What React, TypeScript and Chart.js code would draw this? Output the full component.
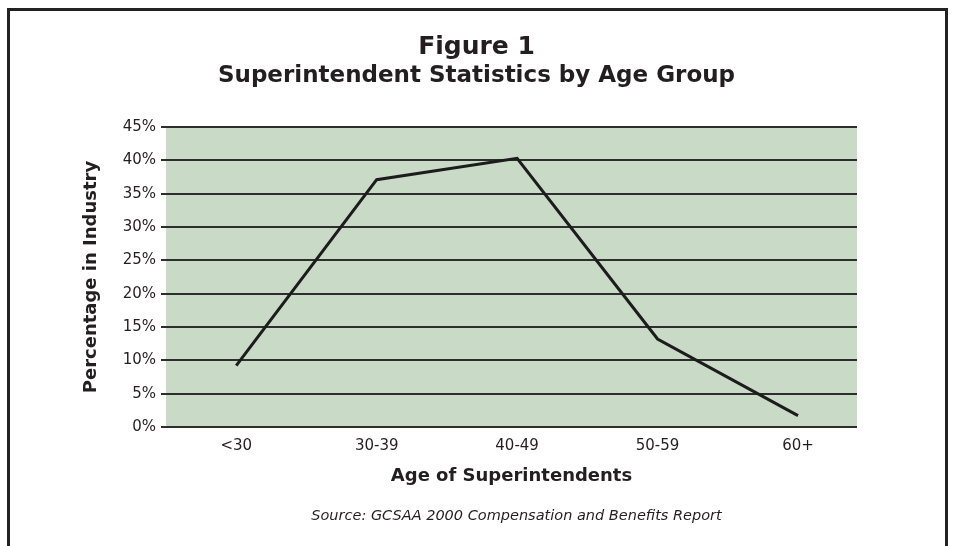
import React, { useEffect, useRef } from "react";
import { Chart, registerables } from "chart.js";

Chart.register(...registerables);

const ageGroups = ["<30", "30-39", "40-49", "50-59", "60+"];
const percentInIndustry = [9.2, 37.1, 40.3, 13.2, 1.7];
const yTickStep = 5;
const yMax = 45;
const titleLine1 = "Figure 1";
const titleLine2 = "Superintendent Statistics by Age Group";
const sourceText = "Source: GCSAA 2000 Compensation and Benefits Report";
const xTitle = "Age of Superintendents";
const yTitle = "Percentage in Industry";

const FONT = "'DejaVu Sans', 'Open Sans', sans-serif";
const TEXT = "#231f20";

const decorPlugin = {
  id: "decor",
  beforeDraw(chart: any) {
    const { ctx, chartArea } = chart;
    ctx.save();
    ctx.fillStyle = "#ffffff";
    ctx.fillRect(0, 0, chart.width, chart.height);
    ctx.fillStyle = "#c9dbc6";
    ctx.fillRect(chartArea.left, chartArea.top, chartArea.right - chartArea.left, chartArea.bottom - chartArea.top);
    ctx.restore();
  },
  afterDraw(chart: any) {
    const { ctx, chartArea, width, height } = chart;
    ctx.save();
    // frame
    ctx.strokeStyle = "#222222";
    ctx.lineWidth = 3;
    ctx.beginPath();
    ctx.moveTo(8.5, height);
    ctx.lineTo(8.5, 9.5);
    ctx.lineTo(946.5, 9.5);
    ctx.lineTo(946.5, height);
    ctx.stroke();
    // titles
    ctx.fillStyle = TEXT;
    ctx.textAlign = "center";
    ctx.textBaseline = "middle";
    ctx.font = `bold 25px ${FONT}`;
    ctx.fillText(titleLine1, width / 2, 47);
    ctx.font = `bold 23px ${FONT}`;
    ctx.fillText(titleLine2, width / 2, 76);
    ctx.font = `italic 14.5px ${FONT}`;
    ctx.fillText(sourceText, (chartArea.left + chartArea.right) / 2 + 5, 516);
    ctx.restore();
  },
};

export default function App() {
  const ref = useRef<HTMLCanvasElement>(null);
  useEffect(() => {
    document.body.style.margin = "0";
    const chart = new Chart(ref.current as HTMLCanvasElement, {
      type: "line",
      data: {
        datasets: [
          {
            data: ageGroups.map((_, i) => ({ x: i, y: percentInIndustry[i] })),
            borderColor: "#1c1c1c",
            borderWidth: 3,
            pointRadius: 0,
            tension: 0,
            fill: false,
          },
        ],
      },
      options: {
        responsive: false,
        animation: false,
        layout: { padding: { left: 81, right: 96, top: 127, bottom: 0 } },
        plugins: { legend: { display: false }, tooltip: { enabled: false } },
        scales: {
          x: {
            type: "linear",
            min: -0.5,
            max: 4.42,
            afterFit: (s: any) => {
              s.height = 119;
            },
            grid: { display: false, drawTicks: false, tickLength: 0 },
            border: { display: false },
            ticks: {
              stepSize: 1,
              includeBounds: false,
              autoSkip: false,
              padding: 10,
              color: TEXT,
              font: { family: FONT, size: 15 },
              callback: (v: any) => (Number.isInteger(v) && ageGroups[v] !== undefined ? ageGroups[v] : ""),
            },
            title: {
              display: true,
              text: xTitle,
              color: TEXT,
              font: { family: FONT, size: 18, weight: "bold" },
              padding: { top: 0, bottom: 59 },
            },
          },
          y: {
            min: 0,
            max: yMax,
            afterFit: (s: any) => {
              s.width = 85;
            },
            grid: { color: "#2e2e2e", lineWidth: 2, tickLength: 5, drawTicks: true },
            border: { display: false },
            ticks: {
              stepSize: yTickStep,
              padding: 5,
              color: TEXT,
              font: { family: FONT, size: 15 },
              callback: (v: any) => `${v}%`,
            },
            title: {
              display: true,
              text: yTitle,
              color: TEXT,
              font: { family: FONT, size: 18, weight: "bold" },
              padding: 0,
            },
          },
        },
      },
      plugins: [decorPlugin],
    });
    return () => chart.destroy();
  }, []);
  return (
    <div style={{ width: 953, height: 546 }}>
      <canvas ref={ref} width={953} height={546} />
    </div>
  );
}
